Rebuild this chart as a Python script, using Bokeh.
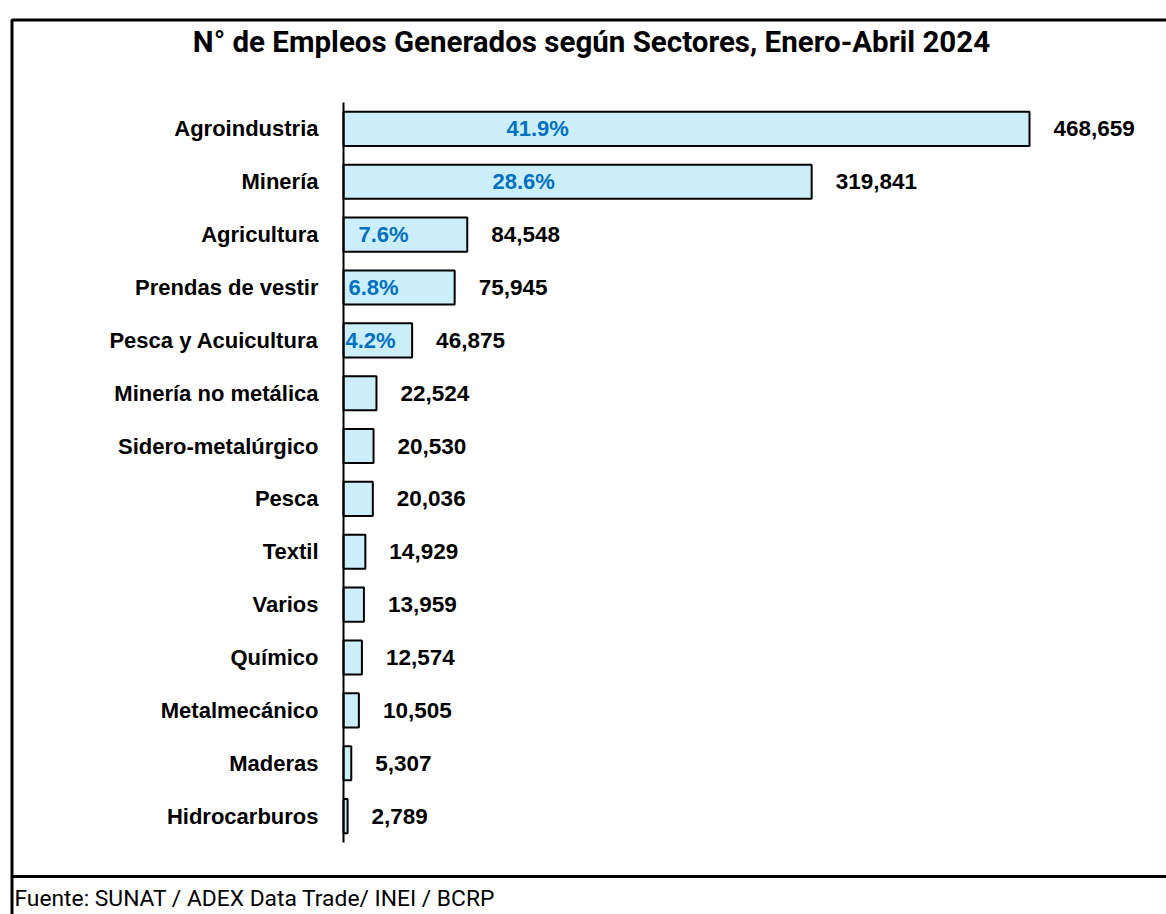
from bokeh.plotting import figure
from bokeh.models import ColumnDataSource, Range1d, BoxAnnotation, Label
from bokeh.core.properties import value
from bokeh.embed import file_html
from bokeh.resources import INLINE

sectors = ["Agroindustria", "Minería", "Agricultura", "Prendas de vestir",
           "Pesca y Acuicultura", "Minería no metálica", "Sidero-metalúrgico",
           "Pesca", "Textil", "Varios", "Químico", "Metalmecánico", "Maderas",
           "Hidrocarburos"]
empleos = [468659, 319841, 84548, 75945, 46875, 22524, 20530, 20036,
           14929, 13959, 12574, 10505, 5307, 2789]
shares = ["41.9%", "28.6%", "7.6%", "6.8%", "4.2%", "", "", "", "", "", "", "", "", ""]
title_text = "N° de Empleos Generados según Sectores, Enero-Abril 2024"
source_text = "Fuente: SUNAT / ADEX Data Trade/ INEI / BCRP"

# style: pixel offsets of the share labels from the bar base
share_offsets = [163, 149, 15, 5, 2, 0, 0, 0, 0, 0, 0, 0, 0, 0]

n = len(sectors)
src = ColumnDataSource(dict(
    idx=list(range(n)),
    sector=sectors,
    empleos=empleos,
    vlabel=[f"{v:,}" for v in empleos],
    share=shares,
    soff=share_offsets,
    base=[0] * n,
))

W, H = 1166, 914
FL, FT = 9, 17            # frame origin on the canvas
AXIS_X = 343              # canvas x of the value axis
BAR_END = 1029            # canvas x of the largest bar end
ROW = 52.86               # pixels per category row
FIRST = 128.4             # canvas y of first row centre

upp = max(empleos) / (BAR_END - AXIS_X)   # units per pixel
x_start = -(AXIS_X - FL) * upp
x_end = (W - AXIS_X) * upp
y_top = -(FIRST - FT) / ROW
y_bot = (H - FIRST) / ROW

p = figure(width=W, height=H, output_backend="svg", toolbar_location=None,
           x_range=Range1d(x_start, x_end), y_range=Range1d(y_bot, y_top),
           x_axis_location=None, y_axis_location=None,
           min_border_left=FL, min_border_top=FT,
           min_border_right=0, min_border_bottom=0)
p.outline_line_color = None
p.grid.visible = False
p.background_fill_color = "white"
p.border_fill_color = "white"

p.hbar(y="idx", left=0, right="empleos", height=0.645, source=src,
       fill_color="#CCEEFB", line_color="black", line_width=2)

# value axis line
p.segment(x0=[0], x1=[0], y0=[-0.5], y1=[n - 0.5],
          line_color="black", line_width=2)

# category labels
p.text(x="base", y="idx", text="sector", source=src, x_offset=-25,
       text_align="right", text_baseline="middle",
       text_font=value("Liberation Sans"), text_font_style="bold",
       text_font_size="22px", text_color="black")

p.text(x="empleos", y="idx", text="vlabel", source=src, x_offset=24,
       text_align="left", text_baseline="middle",
       text_font=value("Liberation Sans"), text_font_style="bold",
       text_font_size="22.5px", text_color="black")

p.text(x="base", y="idx", text="share", source=src, x_offset="soff",
       text_align="left", text_baseline="middle",
       text_font=value("Liberation Sans"), text_font_style="bold",
       text_font_size="22px", text_color="#0070C0")

p.add_layout(Label(x=591, y=41, x_units="canvas", y_units="canvas",
                   text=title_text, text_align="center", text_baseline="middle",
                   text_font="Roboto", text_font_style="bold",
                   text_font_size="29.5px", text_color="black"))
p.add_layout(Label(x=14, y=898, x_units="canvas", y_units="canvas",
                   text=source_text, text_align="left", text_baseline="middle",
                   text_font="Roboto", text_font_style="normal",
                   text_font_size="22.8px", text_color="black"))

p.add_layout(BoxAnnotation(left=11.5, right=1250, top=19.5, bottom=876,
                           left_units="canvas", right_units="canvas",
                           top_units="canvas", bottom_units="canvas",
                           fill_alpha=0, line_color="black", line_alpha=1,
                           line_width=3))
p.add_layout(BoxAnnotation(left=11.5, right=1250, top=876, bottom=960,
                           left_units="canvas", right_units="canvas",
                           top_units="canvas", bottom_units="canvas",
                           fill_alpha=0, line_color="black", line_alpha=1,
                           line_width=3))

open("out.html", "w").write(file_html(p, INLINE))
